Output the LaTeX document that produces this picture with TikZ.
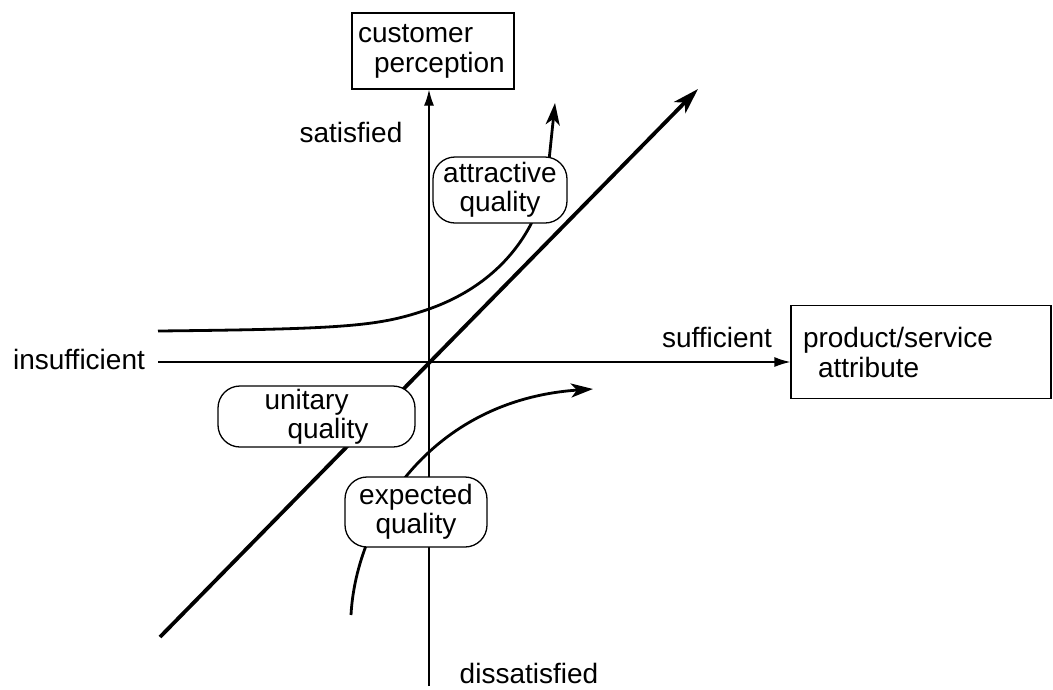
\documentclass[tikz,border=0pt]{standalone}
\usepackage{fontspec}
\setmainfont{Liberation Sans}
\usetikzlibrary{arrows.meta, positioning}
\tikzset{
  lbl/.style={font=\fontsize{28}{30}\selectfont, anchor=base, inner sep=0pt},
  sqbox/.style={draw, line width=1.3pt, fill=white, font=\fontsize{28}{30}\selectfont, inner sep=5pt, align=left},
  qbox/.style={draw, line width=1.3pt, fill=white, rounded corners=22pt, font=\fontsize{28}{29}\selectfont, inner sep=2pt},
  axisline/.style={line width=1.3pt, -{Latex[length=16pt,width=10pt]}},
  curveline/.style={line width=2.8pt, -{Stealth[length=22pt,width=14pt,inset=6pt]}},
  diagline/.style={line width=3.8pt, -{Stealth[length=26pt,width=16pt,inset=7pt]}}
}
\begin{document}
\begin{tikzpicture}[x=1pt,y=-1pt]
\useasboundingbox (0,0) rectangle (1053,689);
\coordinate (vbot) at (429,686);
\coordinate (hleft) at (158,362);
\coordinate (dlow) at (160,637);
\coordinate (dtop) at (698,89);
\coordinate (aleft) at (158,331);
\coordinate (amid) at (429,309);
\coordinate (atip) at (555,103);
\coordinate (elow) at (351,615);
\coordinate (etip) at (593,389);
\node (cust) at (433,51) [sqbox, minimum width=162pt, minimum height=76pt, text width=150pt] {customer\\\hspace*{16pt}perception};
\node (prod) at (921,352) [sqbox, minimum width=260pt, minimum height=93pt, text width=236pt] {product/service\\\hspace*{15pt}attribute};
\draw [axisline] (vbot) -- (vbot |- cust.south);
\draw [axisline] (hleft) -- (hleft -| prod.west);
\draw [curveline] (aleft) .. controls (350,329) and (380,326) .. (amid) .. controls (500,284) and (540,230) .. (548,170) -- (atip);
\draw [curveline] (elow) .. controls (356,520) and (430,400) .. (etip);
\draw [diagline] (dlow) -- (dtop);
\node (attr) at (500,190) [qbox, minimum width=134pt, minimum height=66pt, align=center] {attractive\\quality};
\node (unit) at (316.5,416.5) [qbox, minimum width=197pt, minimum height=61pt, align=left] {unitary\\\hspace*{23pt}quality};
\node (expt) at (416,512) [qbox, minimum width=142pt, minimum height=70pt, align=center] {expected\\quality};
\node (sat) at (351,142) [lbl] {satisfied};
\node (dissat) at (529,683) [lbl] {dissatisfied};
\node (suff) at (717,347) [lbl] {sufficient};
\node (insuff) at (79,369) [lbl] {insufficient};
\end{tikzpicture}
\end{document}
